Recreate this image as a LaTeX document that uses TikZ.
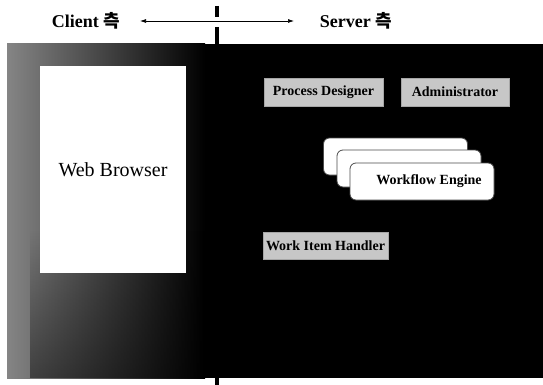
\documentclass[tikz,border=0pt]{standalone}
\usepackage{fontspec}
\setmainfont{Liberation Serif}
\newfontfamily\kor{Noto Sans CJK KR}
\usetikzlibrary{fadings,arrows.meta}
\tikzset{
  graybox/.style={fill=black!22, draw=black!35, line width=0.6pt, inner sep=0pt,
    font=\fontsize{14}{16}\selectfont\bfseries},
  stackbox/.style={fill=white, draw=black!70, line width=0.8pt, rounded corners=6pt,
    minimum width=144pt, minimum height=37pt, inner sep=0pt},
  sidelabel/.style={font=\fontsize{18}{20}\selectfont\bfseries, inner sep=0pt},
  divider/.style={line width=3.4pt, black},
  sidearrow/.style={line width=0.7pt, -{Latex[length=6pt,width=4pt]}}
}
\begin{document}
\begin{tikzpicture}[x=1pt,y=-1pt]
\useasboundingbox (0,0) rectangle (543,385);
\fill[white] (0,0) rectangle (543,385);
% background panel
\fill[black] (7,44) rectangle (543,378);
\shade[left color=black!48, right color=black] (7,44) rectangle (205,378);
\fill[black, path fading=north, fill opacity=0.45] (30,230) rectangle (205,378);
% divider
\coordinate (dmid) at (217,21);
\coordinate (dbot) at (217,385);
\draw[divider] (217,6) -- (217,17);
\draw[divider] (217,27) -- (217,44);
\draw[divider] (217,378) -- (dbot);
% side labels and arrows
\node[sidelabel] (client) at (86,21) {Client {\kor 측}};
\node[sidelabel] (server) at (356,21) {Server {\kor 측}};
\coordinate (al) at (140,21);
\coordinate (ar) at (294,21);
\draw[sidearrow] (dmid) -- (al);
\draw[sidearrow] (dmid) -- (ar);
% web browser
\node[fill=white, minimum width=146pt, minimum height=207pt, inner sep=0pt,
  font=\fontsize{20}{22}\selectfont] (wb) at (113,169.5) {\raisebox{-3pt}{Web Browser}};
% server boxes
\node[graybox, minimum width=119pt, minimum height=28pt] (pd) at (323.5,92) {Process Designer};
\node[graybox, minimum width=108pt, minimum height=28pt] (adm) at (455,92) {Administrator};
\node[graybox, minimum width=125pt, minimum height=27pt] (wih) at (325.5,245.5) {Work Item Handler};
% workflow engine stack
\node[stackbox] (we1) at (395.5,156.5) {};
\node[stackbox] (we2) at (409,168.5) {};
\node[stackbox] (we3) at (422,181.5) {};
\node[font=\fontsize{14}{16}\selectfont\bfseries, inner sep=0pt] (wet) at (429,181) {Workflow Engine};
\end{tikzpicture}
\end{document}
